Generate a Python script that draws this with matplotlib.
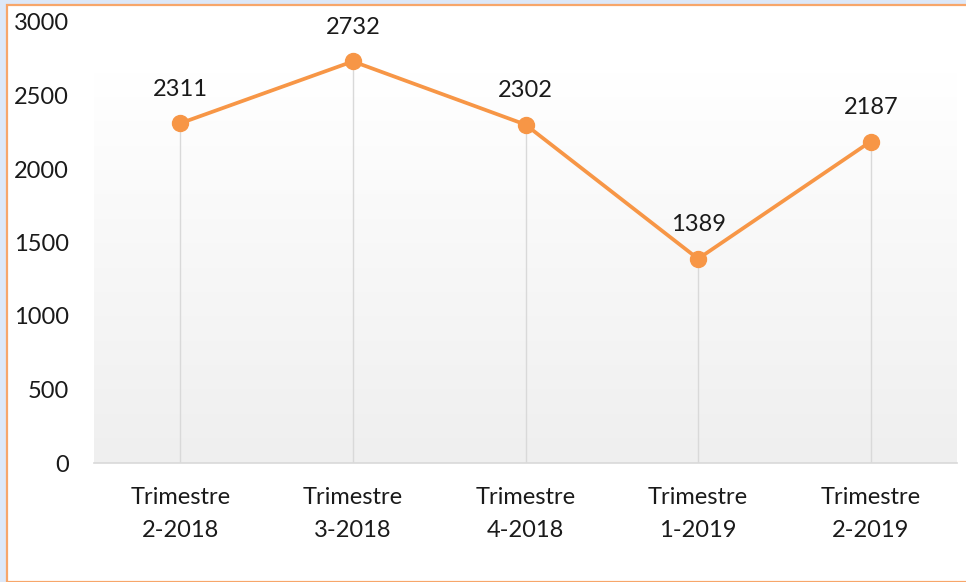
import matplotlib
matplotlib.use("Agg")
import matplotlib.pyplot as plt
import numpy as np
from matplotlib.patches import Rectangle
from matplotlib.colors import LinearSegmentedColormap

categories = ["Trimestre\n2-2018", "Trimestre\n3-2018", "Trimestre\n4-2018",
              "Trimestre\n1-2019", "Trimestre\n2-2019"]
values = [2311, 2732, 2302, 1389, 2187]
yticks = [0, 500, 1000, 1500, 2000, 2500, 3000]

plt.rcParams['font.family'] = ['Lato', 'DejaVu Sans']

W, H = 966, 582
fig = plt.figure(figsize=(W / 100, H / 100), dpi=100)
fig.patch.set_facecolor('#dde8f8')

# white chart area with orange border
fig.patches.append(Rectangle((7 / W, 0), 1.2, (H - 5) / H, transform=fig.transFigure,
                             facecolor='white', edgecolor='#f7a66a', linewidth=1.6, zorder=-5))

ax = fig.add_axes([94 / W, (H - 463) / H, (957 - 94) / W, (463 - 22) / H])
ax.set_zorder(2)
ax.set_facecolor('none')
x = np.arange(len(values))
ax.set_xlim(-0.5, len(values) - 0.5)
ax.set_ylim(0, 3000)

# gradient plot area
top_frac = (463 - 72) / (463 - 22)
cmap = LinearSegmentedColormap.from_list('g', ['#efefef', '#ffffff'])
grad = np.linspace(0, 1, 256).reshape(-1, 1)
ax.imshow(grad, cmap=cmap, aspect='auto', origin='lower',
          extent=(-0.5, len(values) - 0.5, 0, 3000 * top_frac), zorder=0)

# drop lines
ax.vlines(x, 0, values, colors='#d9d9d9', linewidth=1.0, zorder=1)

ax.plot(x, values, color='#f79646', linewidth=2.7, marker='o', markersize=11.5,
        markerfacecolor='#f79646', markeredgecolor='#f79646', zorder=3,
        solid_capstyle='round')

for xi, v in zip(x, values):
    ax.annotate(str(v), (xi, v), xytext=(0, 17), textcoords='offset points',
                ha='center', va='bottom', fontsize=17, color='#1a1a1a')

ax.set_xticks(x)
ax.set_xticklabels(categories, fontsize=17, color='#1a1a1a', linespacing=1.7)
ax.set_yticks(yticks)
ax.set_yticklabels([str(t) for t in yticks], fontsize=17, color='#1a1a1a')
ax.tick_params(axis='both', length=0)
ax.tick_params(axis='y', pad=18)
ax.tick_params(axis='x', pad=17)
for s in ['top', 'right', 'left']:
    ax.spines[s].set_visible(False)
ax.spines['bottom'].set_color('#d9d9d9')
ax.spines['bottom'].set_linewidth(1.2)

fig.savefig('out.png', dpi=100)
